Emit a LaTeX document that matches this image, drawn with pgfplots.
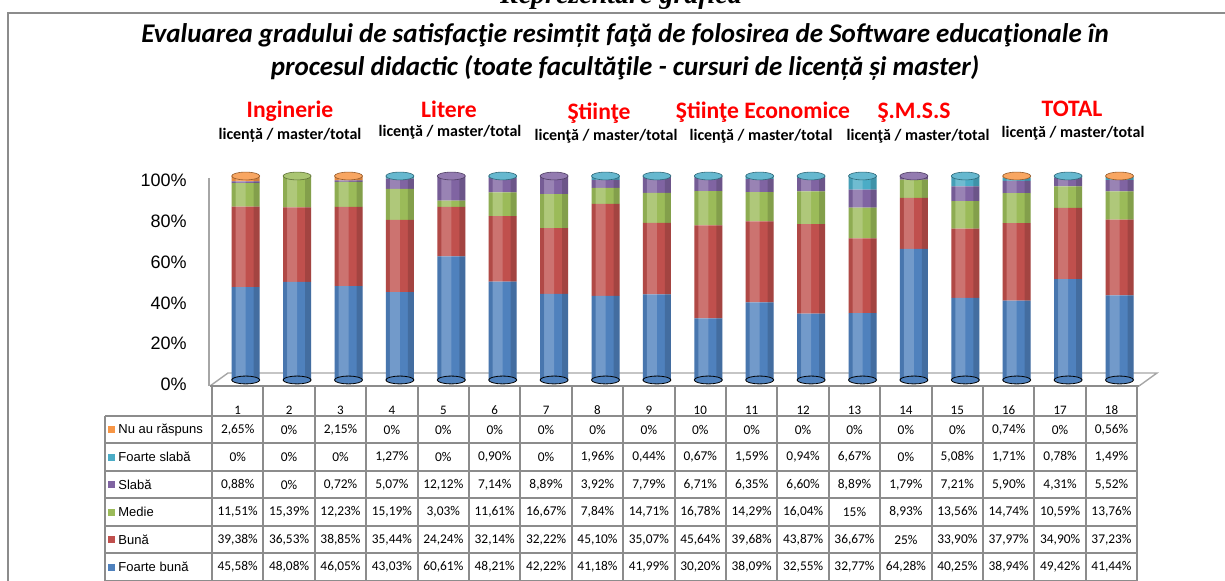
\documentclass[border=0pt]{standalone}
\usepackage{pgfplots}
\pgfplotsset{compat=1.18}
\usepackage{pgfplotstable}
\usepackage{fontspec}
\setmainfont{Carlito}
\newfontfamily\arialf{Liberation Sans}
\newfontfamily\tnrf{Liberation Serif}
\definecolor{cFB}{HTML}{4F81BD}
\definecolor{cB}{HTML}{C0504D}
\definecolor{cM}{HTML}{9BBB59}
\definecolor{cS}{HTML}{8064A2}
\definecolor{cFS}{HTML}{4BACC6}
\definecolor{cNR}{HTML}{F79646}
\definecolor{frm}{HTML}{8C8C8C}
\definecolor{tbl}{HTML}{8C8C8C}
\definecolor{wall}{HTML}{A6A6A6}

\pgfplotstableread{
x fb b m s fs nr
1 45.58 39.38 11.51 0.88 0 2.65
2 48.08 36.53 15.39 0 0 0
3 46.05 38.85 12.23 0.72 0 2.15
4 43.03 35.44 15.19 5.07 1.27 0
5 60.61 24.24 3.03 12.12 0 0
6 48.21 32.14 11.61 7.14 0.90 0
7 42.22 32.22 16.67 8.89 0 0
8 41.18 45.10 7.84 3.92 1.96 0
9 41.99 35.07 14.71 7.79 0.44 0
10 30.20 45.64 16.78 6.71 0.67 0
11 38.09 39.68 14.29 6.35 1.59 0
12 32.55 43.87 16.04 6.60 0.94 0
13 32.77 36.67 15 8.89 6.67 0
14 64.28 25 8.93 1.79 0 0
15 40.25 33.90 13.56 7.21 5.08 0
16 38.94 37.97 14.74 5.90 1.71 0.74
17 49.42 34.90 10.59 4.31 0.78 0
18 41.44 37.23 13.76 5.52 1.49 0.56
}\data

\newcommand\cellfont{\fontsize{6.7}{7}\selectfont}
\newcommand\tabrow[2]{%
  \foreach \v [count=\i] in {#2} \node[font=\cellfont, inner sep=0pt] at ({186.3+51.4*\i},#1) {\v\%};}

\begin{document}
\begin{tikzpicture}
\path[use as bounding box] (0,0) rectangle (612.5pt,-290.5pt);

\begin{scope}[x=0.5pt,y=-0.5pt]
  % outer frame
  \draw[frm, line width=1pt] (8,600) -- (8,13) -- (1240,13);
  % titles
  \node[font=\tnrf\bfseries\itshape\fontsize{14}{16}\selectfont, anchor=base] at (621,4) {Reprezentare grafică};
  \node[font=\bfseries\itshape\fontsize{13.5}{15}\selectfont] at (625,36) {Evaluarea gradului de satisfacţie resimțit faţă de folosirea de Software educaţionale în};
  \node[font=\bfseries\itshape\fontsize{13.5}{15}\selectfont] at (625,68) {procesul didactic (toate facultăţile - cursuri de licență și master)};
  % group labels
  \begin{scope}[every node/.style={font=\bfseries\fontsize{11.8}{13}\selectfont, text=red, inner sep=0pt}]
    \node at (290,111) {Inginerie};
    \node at (449,109) {Litere};
    \node at (599,113) {Ştiinţe};
    \node at (763,112) {Ştiinţe Economice};
    \node at (914,113) {Ş.M.S.S};
    \node at (1072,109) {TOTAL};
  \end{scope}
  \begin{scope}[every node/.style={font=\bfseries\fontsize{8}{9}\selectfont, inner sep=0pt}]
    \node at (290,135) {licență / master/total};
    \node at (450,132) {licenţă / master/total};
    \node at (606,136) {licenţă / master/total};
    \node at (761,136) {licenţă / master/total};
    \node at (918,136) {licenţă / master/total};
    \node at (1073,133) {licenţă / master/total};
  \end{scope}
  % wall and floor
  \draw[wall, line width=0.7pt] (209,178) -- (209,386);
  \draw[wall, line width=0.7pt] (210,386) -- (228,373) -- (1157,373) -- (1139,386);
\end{scope}

\begin{axis}[
  at={(110pt,-190pt)}, anchor=south west, scale only axis,
  width=462.6pt, height=102pt,
  xmin=0.5, xmax=18.5, ymin=0, ymax=100,
  ybar stacked, bar width=14pt,
  axis line style={draw=none}, major tick length=0pt,
  xtick=\empty, ytick={0,20,...,100},
  /pgf/number format/assume math mode=true,
  yticklabel={\pgfmathprintnumber{\tick}\%},
  yticklabel style={font=\arialf\fontsize{9}{10}\selectfont, anchor=east, inner sep=0pt, xshift=-16.5pt, yshift=-2.25pt},
]
\addplot[fill=cFB, draw=none] table[x=x,y=fb]{\data};
\addplot[fill=cB, draw=none] table[x=x,y=b]{\data};
\addplot[fill=cM, draw=none] table[x=x,y=m]{\data};
\addplot[fill=cS, draw=none] table[x=x,y=s]{\data};
\addplot[fill=cFS, draw=none] table[x=x,y=fs]{\data};
\addplot[fill=cNR, draw=none] table[x=x,y=nr]{\data};
\end{axis}

\begin{axis}[
  at={(110pt,-190pt)}, anchor=south west, scale only axis,
  width=462.6pt, height=102pt,
  xmin=0.5, xmax=18.5, ymin=0, ymax=100,
  hide axis, clip=false,
]
\addplot[only marks, mark=*, mark size=7pt, mark options={yscale=0.28, fill=cFB, draw=none}] table[x=x, y expr=0]{\data};
\addplot[ybar, bar width=5pt, bar shift=-2.5pt, fill=white, fill opacity=0.2, draw=none] table[x=x, y expr=\thisrow{fb}+\thisrow{b}+\thisrow{m}+\thisrow{s}+\thisrow{fs}+\thisrow{nr}]{\data};
\addplot[ybar, bar width=3pt, bar shift=5.5pt, fill=black, fill opacity=0.15, draw=none] table[x=x, y expr=\thisrow{fb}+\thisrow{b}+\thisrow{m}+\thisrow{s}+\thisrow{fs}+\thisrow{nr}]{\data};
\addplot[ybar, bar width=2pt, bar shift=-6pt, fill=black, fill opacity=0.08, draw=none] table[x=x, y expr=\thisrow{fb}+\thisrow{b}+\thisrow{m}+\thisrow{s}+\thisrow{fs}+\thisrow{nr}]{\data};
\addplot[only marks, mark=*, mark size=7pt, mark options={yscale=0.28, fill=cNR!85!white, draw=cNR!60!black, line width=0.3pt}] coordinates {(1,100)(3,100)(16,100)(18,100)};
\addplot[only marks, mark=*, mark size=7pt, mark options={yscale=0.28, fill=cM!85!white, draw=cM!60!black, line width=0.3pt}] coordinates {(2,100)};
\addplot[only marks, mark=*, mark size=7pt, mark options={yscale=0.28, fill=cS!85!white, draw=cS!60!black, line width=0.3pt}] coordinates {(5,100)(7,100)(14,100)};
\addplot[only marks, mark=*, mark size=7pt, mark options={yscale=0.28, fill=cFS!85!white, draw=cFS!60!black, line width=0.3pt}] coordinates {(4,100)(6,100)(8,100)(9,100)(10,100)(11,100)(12,100)(13,100)(15,100)(17,100)};
\end{axis}

\begin{scope}[x=0.5pt,y=-0.5pt]
  % table grid
  \foreach \k in {0,...,18} \draw[tbl, line width=1pt] ({212+51.4*\k},386) -- ({212+51.4*\k},582);
  \draw[tbl, line width=1pt] (210,386) -- (1139,386);
  \foreach \r in {0,...,6} \draw[tbl, line width=1pt] (105,{416+27.5*\r}) -- (1137.2,{416+27.5*\r});
  \draw[tbl, line width=1pt] (105,416) -- (105,582);
  % column numbers
  \foreach \k in {1,...,18} \node[font=\fontsize{6.5}{7}\selectfont, inner sep=0pt] at ({186.3+51.4*\k},410) {\k};
  % row labels
  \begin{scope}[every node/.style={font=\arialf\fontsize{6.5}{7}\selectfont, anchor=west, inner sep=0pt}]
    \fill[cNR] (108,426.25) rectangle (115,433.25); \node at (118,429.75) {Nu au răspuns};
    \fill[cFS] (108,453.75) rectangle (115,460.75); \node at (118,457.25) {Foarte slabă};
    \fill[cS] (108,481.25) rectangle (115,488.25); \node at (118,484.75) {Slabă};
    \fill[cM] (108,508.75) rectangle (115,515.75); \node at (118,512.25) {Medie};
    \fill[cB] (108,536.25) rectangle (115,543.25); \node at (118,539.75) {Bună};
    \fill[cFB] (108,563.75) rectangle (115,570.75); \node at (118,567.25) {Foarte  bună};
  \end{scope}
  \tabrow{429.75}{2{,}65,0,2{,}15,0,0,0,0,0,0,0,0,0,0,0,0,0{,}74,0,0{,}56}
  \tabrow{457.25}{0,0,0,1{,}27,0,0{,}90,0,1{,}96,0{,}44,0{,}67,1{,}59,0{,}94,6{,}67,0,5{,}08,1{,}71,0{,}78,1{,}49}
  \tabrow{484.75}{0{,}88,0,0{,}72,5{,}07,12{,}12,7{,}14,8{,}89,3{,}92,7{,}79,6{,}71,6{,}35,6{,}60,8{,}89,1{,}79,7{,}21,5{,}90,4{,}31,5{,}52}
  \tabrow{512.25}{11{,}51,15{,}39,12{,}23,15{,}19,3{,}03,11{,}61,16{,}67,7{,}84,14{,}71,16{,}78,14{,}29,16{,}04,15,8{,}93,13{,}56,14{,}74,10{,}59,13{,}76}
  \tabrow{539.75}{39{,}38,36{,}53,38{,}85,35{,}44,24{,}24,32{,}14,32{,}22,45{,}10,35{,}07,45{,}64,39{,}68,43{,}87,36{,}67,25,33{,}90,37{,}97,34{,}90,37{,}23}
  \tabrow{567.25}{45{,}58,48{,}08,46{,}05,43{,}03,60{,}61,48{,}21,42{,}22,41{,}18,41{,}99,30{,}20,38{,}09,32{,}55,32{,}77,64{,}28,40{,}25,38{,}94,49{,}42,41{,}44}
\end{scope}
\end{tikzpicture}
\end{document}
